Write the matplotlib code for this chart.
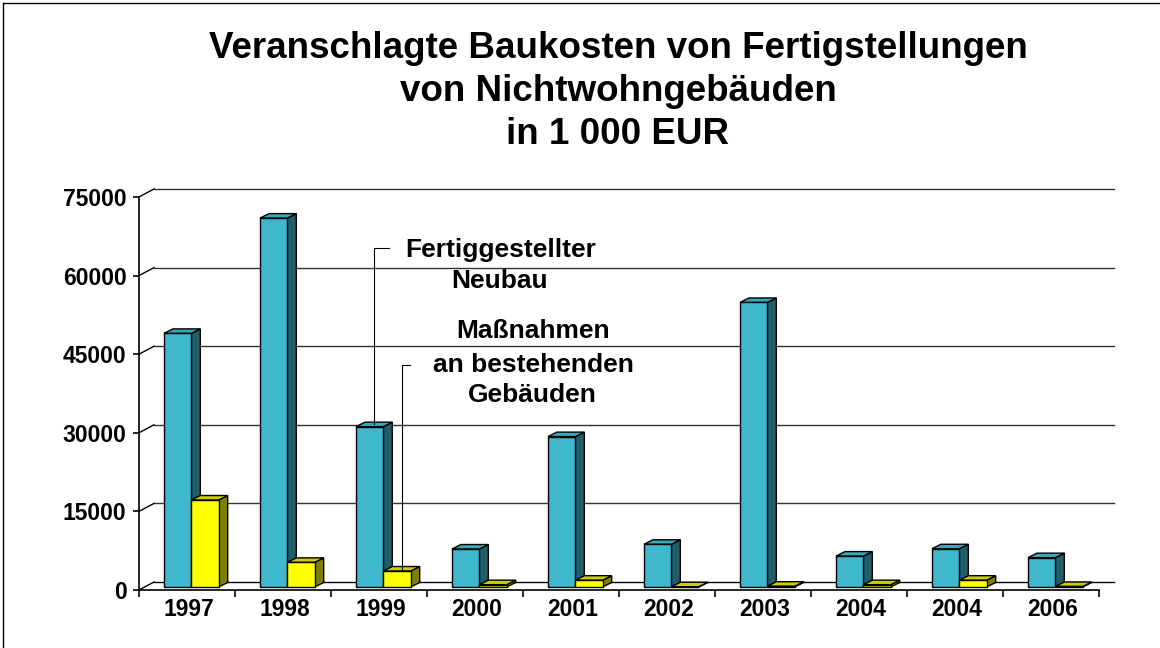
import matplotlib
matplotlib.use("Agg")
import matplotlib.pyplot as plt
from matplotlib.patches import Polygon
from matplotlib.lines import Line2D

# ------------------------------------------
# DATA (in 1 000 EUR)
# ------------------------------------------

years = ['1997', '1998', '1999', '2000', '2001', '2002', '2003', '2004', '2004', '2006']

neubau = [48400, 70400, 30600, 7250, 28700, 8150, 54300, 5900, 7300, 5600]
bestand = [16600, 4700, 3050, 450, 1300, 50, 150, 450, 1300, 100]

series_labels = [['Fertiggestellter', 'Neubau'],
                 ['Maßnahmen', 'an bestehenden', 'Gebäuden']]

y_ticks = [0, 15000, 30000, 45000, 60000, 75000]

# ------------------------------------------
# FIGURE
# ------------------------------------------

plt.rcParams['font.family'] = ['Liberation Sans', 'DejaVu Sans']
plt.rcParams['font.weight'] = 'bold'

W, H = 1160, 648
fig = plt.figure(figsize=(W / 100, H / 100), dpi=100)

ax_l, ax_b, ax_w, ax_h = 139, 58, 960, 393
ax = fig.add_axes([ax_l / W, ax_b / H, ax_w / W, ax_h / H])
ax.set_xlim(0, len(years))
ax.set_ylim(0, 75000)
ax.patch.set_visible(False)

# pixel -> data conversion for the 3d effect
px_x = ax_w / len(years)
px_y = ax_h / 75000.0


def dx(p):
    return p / px_x


def dy(p):
    return p / px_y


# back wall offset
wall_dx, wall_dy = dx(15), dy(8)

# gridlines on the back wall + connectors on the side wall
for v in y_ticks:
    ax.plot([wall_dx, len(years) + wall_dx], [v + wall_dy, v + wall_dy],
            color='#333333' if v else 'black', lw=1.0, zorder=1, clip_on=False)
    ax.plot([0, wall_dx], [v, v + wall_dy], color='black', lw=1.0,
            zorder=1, clip_on=False)

# ------------------------------------------
# 3D COLUMNS
# ------------------------------------------

bar_w = 0.285
bar_start = 0.26
base = dy(3)
dep_x, dep_y = dx(9), dy(4.5)

colors = [
    ('#3FB8CE', '#3AA6B9', '#215E6A'),   # front, top, side
    ('#FFFF00', '#CCCC00', '#808000'),
]


def column(x0, h, cols):
    front, top, side = cols
    y0 = base
    y1 = base + h
    x1 = x0 + bar_w
    kw = dict(edgecolor='black', lw=1.0, zorder=3, clip_on=False, joinstyle='miter')
    ax.add_patch(Polygon([(x1, y0), (x1 + dep_x, y0 + dep_y), (x1 + dep_x, y1 + dep_y), (x1, y1)],
                         facecolor=side, **kw))
    ax.add_patch(Polygon([(x0, y1), (x1, y1), (x1 + dep_x, y1 + dep_y), (x0 + dep_x, y1 + dep_y)],
                         facecolor=top, **kw))
    ax.add_patch(Polygon([(x0, y0), (x1, y0), (x1, y1), (x0, y1)],
                         facecolor=front, **kw))


for i in range(len(years)):
    column(i + bar_start, neubau[i], colors[0])
    column(i + bar_start + bar_w, bestand[i], colors[1])

# ------------------------------------------
# AXES
# ------------------------------------------

for s in ['top', 'right']:
    ax.spines[s].set_visible(False)
ax.spines['left'].set_linewidth(1.2)
ax.spines['bottom'].set_linewidth(1.2)

ax.set_yticks(y_ticks)
ax.set_yticklabels([str(v) for v in y_ticks])
ax.tick_params(axis='y', direction='out', length=4.5, width=1.2, pad=4.5,
               labelsize=16.5)

ax.set_xticks(range(len(years) + 1))
ax.set_xticklabels([])
ax.set_xticks([i + 0.52 for i in range(len(years))], minor=True)
ax.set_xticklabels(years, minor=True)
ax.tick_params(axis='x', which='major', direction='out', length=5, width=1.2)
ax.tick_params(axis='x', which='minor', length=0, pad=6, labelsize=16.5)

for lab in ax.get_xticklabels(minor=True) + ax.get_yticklabels():
    lab.set_fontweight('bold')

# ------------------------------------------
# SERIES LABELS WITH LEADERS
# ------------------------------------------

lead1_x = 2 + bar_start + bar_w / 2 + dep_x / 2
lead2_x = 2 + bar_start + 1.5 * bar_w + dep_x / 2
lead1_y = dy(590 - 248)
lead2_y = dy(590 - 365)

ax.plot([lead1_x, lead1_x, lead1_x + dx(15)],
        [base + neubau[2] + dep_y / 2, lead1_y, lead1_y],
        color='black', lw=0.8, zorder=4, clip_on=False)
ax.plot([lead2_x, lead2_x, lead2_x + dx(8)],
        [base + bestand[2] + dep_y / 2, lead2_y, lead2_y],
        color='black', lw=0.8, zorder=4, clip_on=False)

# label lines: (x centre, baseline) in pixels from the axes origin
label_pos = [[(501, 257), (500, 288)],
             [(533, 338), (533, 372), (532, 402)]]

for lines, pos in zip(series_labels, label_pos):
    for txt, (px, py) in zip(lines, pos):
        ax.text(dx(px - ax_l), dy(590 - py), txt, ha='center', va='baseline',
                fontsize=19, fontweight='bold', zorder=5)

# ------------------------------------------
# TITLE
# ------------------------------------------

title_lines = ['Veranschlagte Baukosten von Fertigstellungen',
               'von Nichtwohngebäuden',
               'in 1 000 EUR']
for k, line in enumerate(title_lines):
    fig.text(618 / W, 1 - (58 + 43 * k) / H, line, ha='center', va='baseline',
             fontsize=26.5, fontweight='bold')

# outer frame
fig.add_artist(Line2D([3 / W, 3 / W], [0, 1 - 3 / H], color='black', lw=1.0,
                      transform=fig.transFigure))
fig.add_artist(Line2D([3 / W, 1], [1 - 3 / H, 1 - 3 / H], color='black', lw=1.0,
                      transform=fig.transFigure))

fig.savefig('out.png', dpi=100)
